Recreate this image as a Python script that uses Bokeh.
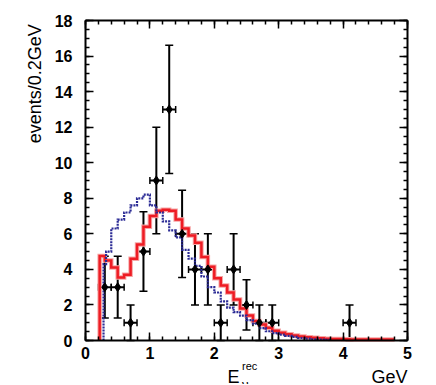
import numpy as np
from bokeh.plotting import figure
from bokeh.models import (Range1d, FixedTicker, LinearAxis, Whisker, TeeHead,
                          ColumnDataSource, Label)
from bokeh.embed import file_html
from bokeh.resources import INLINE

# ---- data ----
data_e = [0.3, 0.5, 0.7, 0.9, 1.1, 1.3, 1.5, 1.7, 1.9, 2.1, 2.3, 2.5, 2.7, 2.9, 4.1]
data_n = [3, 3, 1, 5, 9, 13, 6, 4, 4, 1, 4, 2, 1, 1, 1]
bin_half = 0.1

red_edges = [0.22, 0.3, 0.4, 0.5, 0.6, 0.7, 0.8, 0.9, 1.0, 1.1, 1.2, 1.3, 1.4, 1.5,
             1.6, 1.7, 1.8, 1.9, 2.0, 2.1, 2.2, 2.3, 2.4, 2.5, 2.6, 2.7, 2.8, 2.9,
             3.0, 3.1, 3.2, 3.3, 3.4, 3.5, 3.6, 3.7, 3.8, 3.9, 4.0, 4.1, 4.2, 4.3,
             4.4, 4.5, 4.6, 4.7, 4.8]
red_vals = [4.75, 4.5, 4.1, 3.55, 3.7, 4.6, 5.4, 6.4, 7.0, 7.3, 7.35, 7.3, 6.8, 6.3,
            5.9, 5.5, 4.7, 4.15, 3.5, 3.1, 2.7, 2.3, 1.8, 1.4, 1.1, 0.9, 0.72, 0.55,
            0.43, 0.35, 0.28, 0.22, 0.18, 0.15, 0.12, 0.1, 0.09, 0.08, 0.07, 0.06,
            0.06, 0.05, 0.05, 0.05, 0.05, 0.05]

blue_edges = [0.28, 0.32, 0.4, 0.5, 0.6, 0.7, 0.8, 0.9, 1.0, 1.1, 1.2, 1.3, 1.4, 1.5,
              1.6, 1.7, 1.8, 1.9, 2.0, 2.1, 2.2, 2.3, 2.4, 2.5, 2.6, 2.7, 2.8, 2.9,
              3.0, 3.1, 3.2, 3.3, 3.4, 3.5, 3.6, 3.7, 3.8]
blue_vals = [4.3, 5.0, 6.3, 6.8, 7.2, 7.6, 8.0, 8.2, 7.6, 7.2, 6.7, 6.2, 5.8, 5.1,
             4.6, 4.2, 3.6, 3.0, 2.7, 2.2, 1.85, 1.6, 1.4, 1.15, 0.95, 0.7, 0.52,
             0.42, 0.33, 0.26, 0.2, 0.14, 0.1, 0.07, 0.05, 0.03]

x_ticks = [0, 1, 2, 3, 4, 5]
y_ticks = [0, 2, 4, 6, 8, 10, 12, 14, 16, 18]
x_minor = [round(0.2 * i, 2) for i in range(26)]
y_minor = [round(0.5 * i, 2) for i in range(37)]
x_lim = (0, 5)
y_lim = (0, 18)

y_title = "events/0.2GeV"
x_title, x_sup, x_sub, x_unit = "E", "rec", "ν", "GeV"


def step_path(edges, vals):
    xs, ys = [edges[0]], [0.0]
    for i, v in enumerate(vals):
        xs += [edges[i], edges[i + 1]]
        ys += [v, v]
    return xs, ys


FONT = "Liberation Sans"
PX_X = 322 / 5.0    # pixels per GeV
PX_Y = 320 / 18.0   # pixels per event
LEFT_PAD = 85       # room for y tick labels and title
BOTTOM_PAD = 44     # room for x tick labels and title
TOP_PAD = 20
RIGHT_PAD = 19

p = figure(output_backend="svg", toolbar_location=None,
           frame_width=322 + LEFT_PAD + RIGHT_PAD,
           frame_height=320 + BOTTOM_PAD + TOP_PAD,
           min_border_left=0, min_border_right=0, min_border_top=0, min_border_bottom=0,
           x_range=Range1d(x_lim[0] - LEFT_PAD / PX_X, x_lim[1] + RIGHT_PAD / PX_X),
           y_range=Range1d(y_lim[0] - BOTTOM_PAD / PX_Y, y_lim[1] + TOP_PAD / PX_Y),
           x_axis_location=None, y_axis_location=None)
p.grid.visible = False
p.outline_line_color = None
p.background_fill_color = "white"
p.border_fill_color = "white"


def style_axis(ax, ticks, minor, bounds, labels=True, standoff=6):
    ax.ticker = FixedTicker(ticks=ticks, minor_ticks=minor)
    ax.bounds = bounds
    ax.axis_line_color = "black"
    ax.axis_line_width = 2
    ax.major_tick_in = 8
    ax.major_tick_out = 0
    ax.minor_tick_in = 4
    ax.minor_tick_out = 0
    ax.major_tick_line_width = 1.5
    ax.minor_tick_line_width = 1.5
    ax.major_label_standoff = standoff
    if labels:
        ax.major_label_text_font = FONT
        ax.major_label_text_font_style = "bold"
        ax.major_label_text_font_size = "16px"
        ax.major_label_text_color = "black"
    else:
        ax.major_label_overrides = {t: "" for t in ticks}
        ax.major_label_text_font_size = "0px"
        ax.major_label_standoff = 0


xb = LinearAxis(fixed_location=y_lim[0])
style_axis(xb, x_ticks, x_minor, x_lim, True, 6)
yl = LinearAxis(fixed_location=x_lim[0])
style_axis(yl, y_ticks, y_minor, y_lim, True, 13)
xt = LinearAxis(fixed_location=y_lim[1])
style_axis(xt, x_ticks, x_minor, x_lim, False)
yr = LinearAxis(fixed_location=x_lim[1])
style_axis(yr, y_ticks, y_minor, y_lim, False)
p.add_layout(xb, "below")
p.add_layout(yl, "left")
p.add_layout(xt, "above")
p.add_layout(yr, "right")

# ---- histograms ----
rx, ry = step_path(red_edges, red_vals)
p.line(rx, ry, line_color="#f6a5a5", line_width=4.5, line_join="miter")
p.line(rx, ry, line_color="#ee1c24", line_width=2.5, line_join="miter")

bx, by = step_path(blue_edges, blue_vals)
p.line(bx, by, line_color="#2b2b95", line_width=2.2, line_dash="2 1", line_join="miter")

# ---- data points ----
err = [np.sqrt(n) for n in data_n]
src = ColumnDataSource(dict(
    x=data_e, y=data_n,
    lo=[max(0.0, n - e) for n, e in zip(data_n, err)],
    hi=[n + e for n, e in zip(data_n, err)],
    xl=[x - bin_half for x in data_e],
    xh=[x + bin_half for x in data_e],
))
p.add_layout(Whisker(source=src, base="x", lower="lo", upper="hi", dimension="height",
                     line_color="black", line_width=2,
                     upper_head=TeeHead(size=8, line_width=1.5, line_color="black"),
                     lower_head=TeeHead(size=8, line_width=1.5, line_color="black")))
p.add_layout(Whisker(source=src, base="y", lower="xl", upper="xh", dimension="width",
                     line_color="black", line_width=2,
                     upper_head=TeeHead(size=7, line_width=1.5, line_color="black"),
                     lower_head=TeeHead(size=7, line_width=1.5, line_color="black")))
p.scatter("x", "y", source=src, marker="diamond", size=9, color="black")

# ---- axis titles ----
p.add_layout(Label(x=-0.79, y=14.44, text=y_title, angle=np.pi / 2,
                   text_align="center", text_baseline="middle",
                   text_font=FONT, text_font_size="18px", text_color="black"))
p.add_layout(Label(x=2.205, y=-2.04, text=x_title, text_align="left",
                   text_baseline="alphabetic", text_font=FONT,
                   text_font_size="18px", text_color="black"))
p.add_layout(Label(x=2.43, y=-1.45, text=x_sup, text_align="left",
                   text_baseline="alphabetic", text_font=FONT,
                   text_font_size="11px", text_color="black"))
p.add_layout(Label(x=2.43, y=-2.48, text=x_sub, text_align="left",
                   text_baseline="alphabetic", text_font=FONT,
                   text_font_size="13px", text_color="black"))
p.add_layout(Label(x=5.0, y=-2.04, text=x_unit, text_align="right",
                   text_baseline="alphabetic", text_font=FONT,
                   text_font_size="18px", text_color="black"))

open("out.html", "w").write(file_html(p, INLINE))
